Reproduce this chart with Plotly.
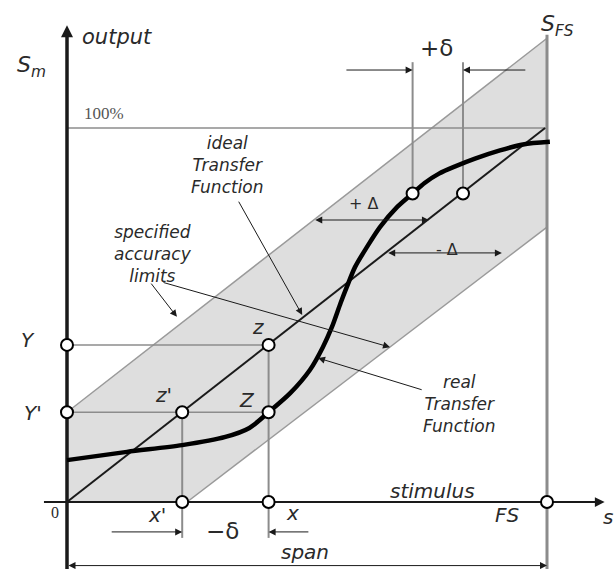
import plotly.graph_objects as go

# ---- transfer-function data (stimulus and output in % of full scale) ----
FS = 100.0           # full-scale stimulus
OUT_MAX = 100.0      # 100 % output
DELTA = 24.0         # half-width of the specified accuracy band

ideal_x = [0.0, 99.6]
ideal_y = [0.0, 100.0]

band_x = [0.0, 0.0, 100.0, 100.0, 25.0]
band_y = [0.0, 24.0, 124.0, 73.5, 0.0]
upper_x = [0.0, 100.0]
upper_y = [24.0, 124.0]
lower_x = [25.0, 100.0]
lower_y = [0.0, 73.5]

real_x = [0, 12.5, 24, 33, 38, 42, 46.5, 50.6, 53.3, 55.2, 57, 58.3, 60,
          62.5, 65.2, 68.8, 72, 74.5, 77.5, 81, 85, 90.2, 95, 100.6]
real_y = [11.2, 13.4, 15.2, 17.4, 19.8, 24, 29.1, 35.3, 41.4, 46.8, 53.2,
          57.5, 62.8, 68.2, 73.5, 78.9, 82.5, 85.3, 87.8, 89.8, 91.8, 94.0, 95.6, 96.3]

# characteristic points
x_true = 42.0        # stimulus x
x_prime = 24.0       # stimulus x'
Y_out = 42.0         # output Y
Y_prime = 24.0       # output Y'
d_out = 82.5         # output level of the +delta example
d_real_x = 72.0
d_ideal_x = 82.5

circle_x = [0, 0, x_true, x_prime, x_true, x_prime, x_true, FS, d_real_x, d_ideal_x]
circle_y = [Y_out, Y_prime, Y_out, Y_prime, Y_prime, 0, 0, 0, d_out, d_out]

# extents of the drawing
X_MIN, X_MAX = -67 / 4.8, 549 / 4.8
Y_MIN, Y_MAX = -67 / 3.74, 502 / 3.74

GREY = "#8c8c8c"
INK = "#1a1a1a"
TXT = "#2a2a2a"

fig = go.Figure()


def seg(xs, ys, color, width):
    fig.add_trace(go.Scatter(x=xs, y=ys, mode="lines",
                             line=dict(color=color, width=width),
                             hoverinfo="skip", showlegend=False))


# accuracy band
fig.add_trace(go.Scatter(x=band_x, y=band_y, fill="toself", mode="lines",
                         fillcolor="#dedede", line=dict(width=0),
                         hoverinfo="skip", showlegend=False))
seg(upper_x, upper_y, "#9a9a9a", 1.5)
seg(lower_x, lower_y, "#9a9a9a", 1.5)

# reference lines
seg([0, FS], [OUT_MAX, OUT_MAX], GREY, 1.5)
seg([0, x_true], [Y_out, Y_out], GREY, 1.5)
seg([0, x_true], [Y_prime, Y_prime], GREY, 1.5)
seg([x_prime, x_prime], [Y_prime, -9.6], GREY, 2)
seg([x_true, x_true], [Y_out, -9.6], GREY, 2)
seg([d_real_x, d_real_x], [d_out, 117.6], GREY, 2)
seg([d_ideal_x, d_ideal_x], [d_out, 117.6], GREY, 2)
seg([FS, FS], [Y_MIN, 124.9], GREY, 3)

# axes
seg([-4.8, 110], [0, 0], INK, 2)
seg([0, 0], [Y_MIN, 125], INK, 3.5)

# ideal transfer function
seg(ideal_x, ideal_y, INK, 2)

# real transfer function
fig.add_trace(go.Scatter(x=real_x, y=real_y, mode="lines",
                         line=dict(color="#000", width=4.5, shape="spline", smoothing=0.8),
                         hoverinfo="skip", showlegend=False))

# marked points
fig.add_trace(go.Scatter(x=circle_x, y=circle_y, mode="markers",
                         marker=dict(size=12, color="white", line=dict(color="#000", width=2)),
                         hoverinfo="skip", showlegend=False))

ann = []


def arrow(x0, y0, x1, y1, both=False, width=1.0, color=INK, size=1.4):
    d = dict(x=x1, y=y1, ax=x0, ay=y0, xref="x", yref="y", axref="x", ayref="y",
             text="", showarrow=True, arrowhead=2, arrowsize=size,
             arrowwidth=width, arrowcolor=color)
    if both:
        d.update(arrowside="end+start", startarrowhead=2, startarrowsize=size)
    ann.append(d)


# axis arrow heads
arrow(0, 118, 0, 127.5, width=2, size=1.2)
arrow(104, 0, 112, 0, width=1.5, size=1.3)

# +delta / -delta dimension arrows
arrow(57.9, 115.5, d_real_x, 115.5)
arrow(95.8, 115.5, d_ideal_x, 115.5)
arrow(9.0, -8.0, x_prime, -8.0)
arrow(50.6, -8.0, x_true, -8.0)

# +Delta / -Delta band widths
yp = 75.4
arrow(yp - DELTA, yp, yp, yp, both=True)
ym = 66.6
arrow(ym, ym, ym + DELTA, ym, both=True)

# span
arrow(0, -17.0, FS, -17.0, both=True)

# label leaders
arrow(35.6, 80.7, 49.0, 50.0)
arrow(17.3, 58.8, 22.9, 49.5)
arrow(19.8, 58.8, 67.3, 41.4)
arrow(74.2, 29.9, 52.3, 38.5)

ITAL = dict(family="DejaVu Sans", size=17, color=TXT, style="italic")


def label(x, y, text, font=ITAL, xanchor="center"):
    ann.append(dict(x=x, y=y, xref="x", yref="y", text=text, showarrow=False,
                    font=font, xanchor=xanchor, yanchor="middle", align="center"))


label(2.7, 124.3, "output", dict(ITAL, size=21), xanchor="left")
label(-7.3, 116.5, "<i>S</i><sub><i>m</i></sub>", dict(family="DejaVu Sans", size=22, color=TXT))
label(3.1, 104.0, "100%", dict(family="Liberation Serif", size=17, color="#555"), xanchor="left")
label(98.4, 127.5, "<i>S</i><sub><i>FS</i></sub>", dict(family="DejaVu Sans", size=22, color=TXT), xanchor="left")
label(76.9, 121.4, "+δ", dict(family="DejaVu Sans", size=23, color=TXT))

label(33.5, 90.2, "ideal<br>Transfer<br>Function")
label(17.9, 66.3, "specified<br>accuracy<br>limits")
label(81.7, 26.1, "real<br>Transfer<br>Function")

label(61.7, 79.7, "+ Δ", dict(family="DejaVu Sans", size=16, color=TXT))
label(79.2, 67.6, "- Δ", dict(family="DejaVu Sans", size=16, color=TXT))

label(39.8, 46.8, "z", dict(ITAL, size=20))
label(20.0, 28.6, "z'", dict(ITAL, size=20))
label(37.5, 27.3, "Z", dict(ITAL, size=20))
label(-8.1, 43.3, "Y", dict(ITAL, size=20))
label(-7.0, 23.8, "Y'", dict(ITAL, size=20))
label(-2.6, -2.7, "0", dict(family="Liberation Serif", size=16, color=TXT))
label(18.75, -3.6, "x'", dict(ITAL, size=20))
label(46.9, -3.0, "x", dict(ITAL, size=20))
label(32.3, -7.8, "−δ", dict(family="DejaVu Sans", size=23, color=TXT))
label(76.2, 2.9, "stimulus", dict(ITAL, size=20))
label(91.7, -3.5, "FS", dict(ITAL, size=20))
label(114.2, -4.0, "s", dict(ITAL, size=20), xanchor="right")
label(49.6, -13.4, "span", dict(ITAL, size=20))

fig.update_layout(
    width=616, height=569,
    margin=dict(l=0, r=0, t=0, b=0),
    paper_bgcolor="white", plot_bgcolor="white",
    xaxis=dict(range=[X_MIN, X_MAX], visible=False, fixedrange=True),
    yaxis=dict(range=[Y_MIN, Y_MAX], visible=False, fixedrange=True),
    annotations=ann,
    showlegend=False,
)

fig.write_html("out.html", config={"displayModeBar": False})
